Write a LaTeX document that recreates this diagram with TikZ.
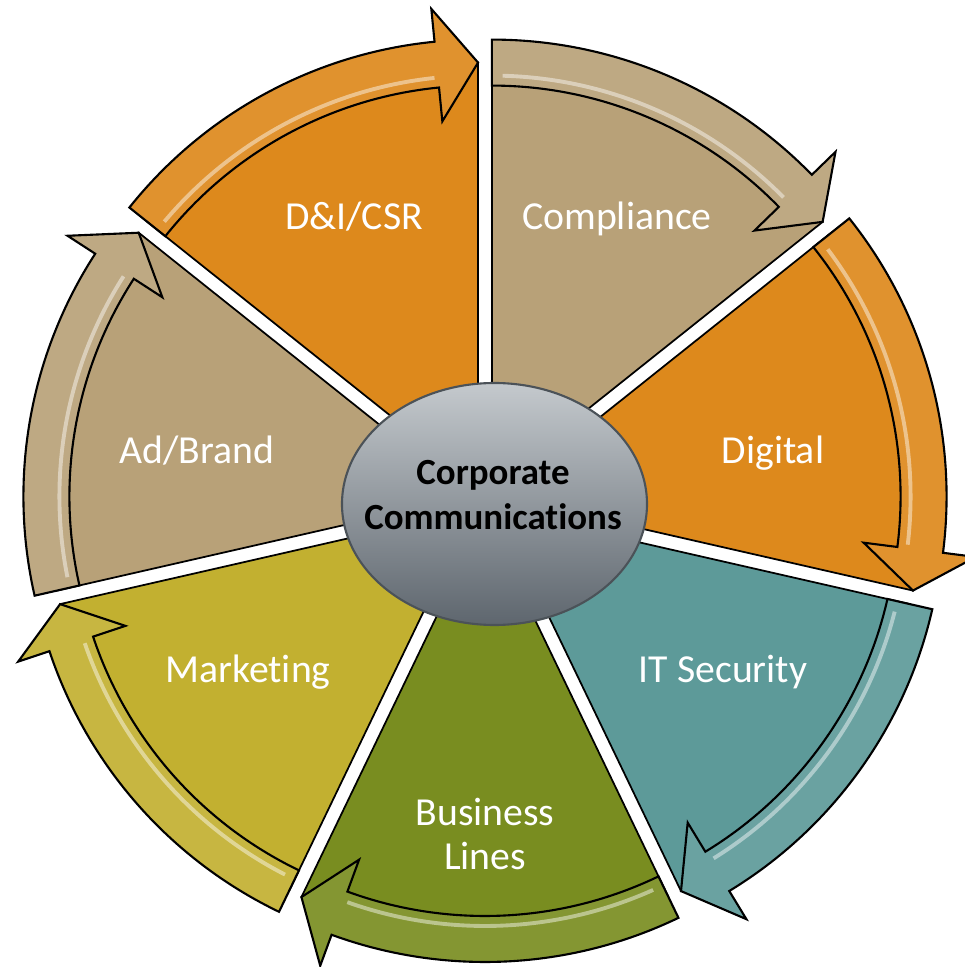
\documentclass[tikz,border=0pt]{standalone}
\usepackage{fontspec}
\setmainfont{Carlito}[Ligatures=NoCommon]
\usetikzlibrary{shapes.geometric}
\definecolor{orng}{RGB}{221,137,28}
\definecolor{khaki}{RGB}{184,161,120}
\definecolor{tealc}{RGB}{93,154,153}
\definecolor{moss}{RGB}{121,141,32}
\definecolor{mustard}{RGB}{194,176,48}
\definecolor{hubtop}{RGB}{196,201,205}
\definecolor{hubbot}{RGB}{94,102,110}

\begin{document}
\begin{tikzpicture}[wedge/.style={draw=black, line width=0.5pt}, band/.style={draw=black, line width=0.6pt, line join=miter}, gloss/.style={white, opacity=0.45, line width=1.1pt}, lbl/.style={text=white, font=\fontsize{11.3}{12.6}\selectfont, anchor=base}, hub/.style={ellipse, draw=hubbot!80!black, line width=0.6pt, top color=hubtop, bottom color=hubbot, minimum width=3.05cm, minimum height=2.42cm}]
            \clip (-4.85,-4.67) rectangle (4.80,5.00);
            % segments with their arrows
            \foreach \sa/\col in {141.43/orng, 90/khaki, 38.57/orng, -12.86/tealc, -64.29/moss, -115.71/mustard, -167.14/khaki} {
                \pgfmathsetmacro{\ea}{\sa-51.43}
                \pgfmathsetmacro{\ha}{\ea+5.6}
                \begin{scope}[shift={(\sa-25.71:0.16)}]
                    \filldraw[wedge, fill=\col] (0,0) -- (\sa:4.23) arc[start angle=\sa, end angle=\ea, radius=4.23] -- cycle;
                    \filldraw[band, fill=\col!92!white] (\sa:4.0) arc[start angle=\sa, end angle=\ha, radius=4.0] -- (\ha:3.66) -- (\ea:4.23) -- (\ha:4.79) -- (\ha:4.46) arc[start angle=\ha, end angle=\sa, radius=4.46] -- cycle;
                    \draw[gloss] (\sa-1.5:4.1) arc[start angle=\sa-1.5, end angle=\ha+0.5, radius=4.1];
                \end{scope}
            }
            % hub
            \node[hub] (hub) at (0.095,-0.04) {};
            \node[font=\bfseries\fontsize{10.5}{12.8}\selectfont, align=center] (hubtext) at (0.08,0.045) {Corporate\\Communications};
            % labels
            \node[lbl] (dicsr) at (-1.31,2.70) {D\&I/CSR};
            \node[lbl] (compl) at (1.32,2.70) {Compliance};
            \node[lbl] (digital) at (2.88,0.37) {Digital};
            \node[lbl] (itsec) at (2.38,-1.82) {IT Security};
            \node[lbl, anchor=center, align=center] (biz) at (0,-3.34) {Business\\Lines};
            \node[lbl] (mktg) at (-2.37,-1.82) {Marketing};
            \node[lbl] (adbrand) at (-2.88,0.37) {Ad/Brand};
        \end{tikzpicture}
\end{document}
